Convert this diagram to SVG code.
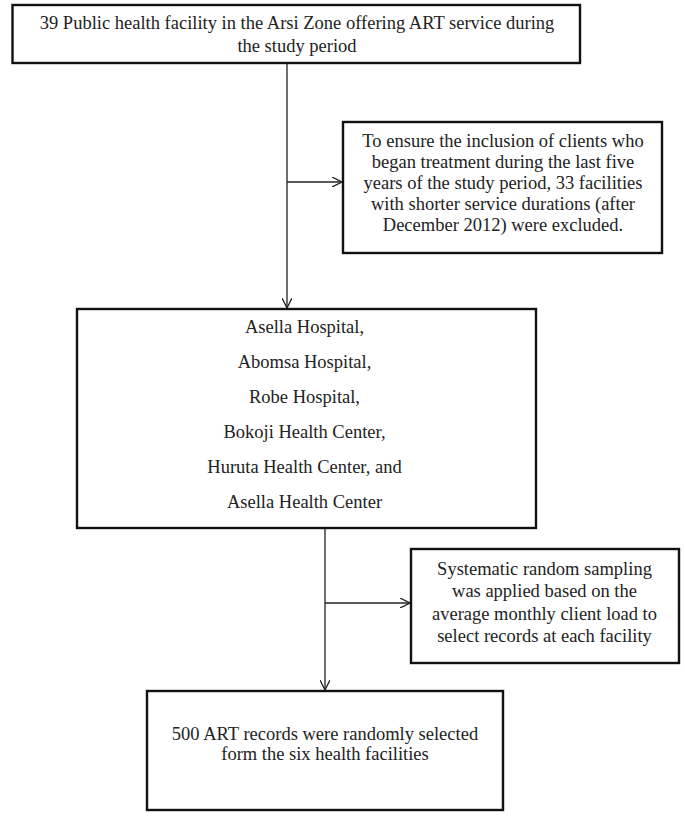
<svg xmlns="http://www.w3.org/2000/svg" width="685" height="818" viewBox="0 0 685 818">
<style>
.box{fill:#fff;stroke:#111;stroke-width:2.4}
.t{font-family:"Liberation Serif","Times New Roman",serif;font-size:18.5px;fill:#222;text-anchor:middle}
.c{fill:none;stroke:#222;stroke-width:1.3}
</style>
<defs>
<marker id="arr" viewBox="0 0 10 10" refX="10" refY="5" markerWidth="10" markerHeight="10" markerUnits="userSpaceOnUse" orient="auto">
<path d="M0,0 L10,5 L0,10" fill="none" stroke="#222" stroke-width="1.3"/>
</marker>
</defs>
<rect width="685" height="818" fill="#fff"/>
<g id="connectors">
<line class="c" x1="287" y1="63" x2="287" y2="308" marker-end="url(#arr)"/>
<line class="c" x1="287" y1="182" x2="342" y2="182" marker-end="url(#arr)"/>
<line class="c" x1="325" y1="528" x2="325" y2="690" marker-end="url(#arr)"/>
<line class="c" x1="325" y1="603" x2="410" y2="603" marker-end="url(#arr)"/>
</g>
<g id="n1">
<rect class="box" x="12.5" y="5" width="567.5" height="58"/>
<text class="t" x="297" y="29">39 Public health facility in the Arsi Zone offering ART service during</text>
<text class="t" x="297" y="52">the study period</text>
</g>
<g id="n2">
<rect class="box" x="343" y="122" width="319" height="131"/>
<text class="t" x="503" y="147">To ensure the inclusion of clients who</text>
<text class="t" x="503" y="168">began treatment during the last five</text>
<text class="t" x="503" y="189">years of the study period, 33 facilities</text>
<text class="t" x="503" y="210">with shorter service durations (after</text>
<text class="t" x="503" y="231">December 2012) were excluded.</text>
</g>
<g id="n3">
<rect class="box" x="77" y="309" width="459" height="219"/>
<text class="t" x="304.5" y="333">Asella Hospital,</text>
<text class="t" x="304.5" y="368">Abomsa Hospital,</text>
<text class="t" x="304.5" y="403">Robe Hospital,</text>
<text class="t" x="304.5" y="438">Bokoji Health Center,</text>
<text class="t" x="304.5" y="473">Huruta Health Center, and</text>
<text class="t" x="304.5" y="508">Asella Health Center</text>
</g>
<g id="n4">
<rect class="box" x="411" y="549" width="268" height="114"/>
<text class="t" x="544.5" y="575">Systematic random sampling</text>
<text class="t" x="544.5" y="597">was applied based on the</text>
<text class="t" x="544.5" y="620">average monthly client load to</text>
<text class="t" x="544.5" y="642">select records at each facility</text>
</g>
<g id="n5">
<rect class="box" x="147" y="691" width="356" height="119"/>
<text class="t" x="325" y="740">500 ART records were randomly selected</text>
<text class="t" x="325" y="760">form the six health facilities</text>
</g>
</svg>
